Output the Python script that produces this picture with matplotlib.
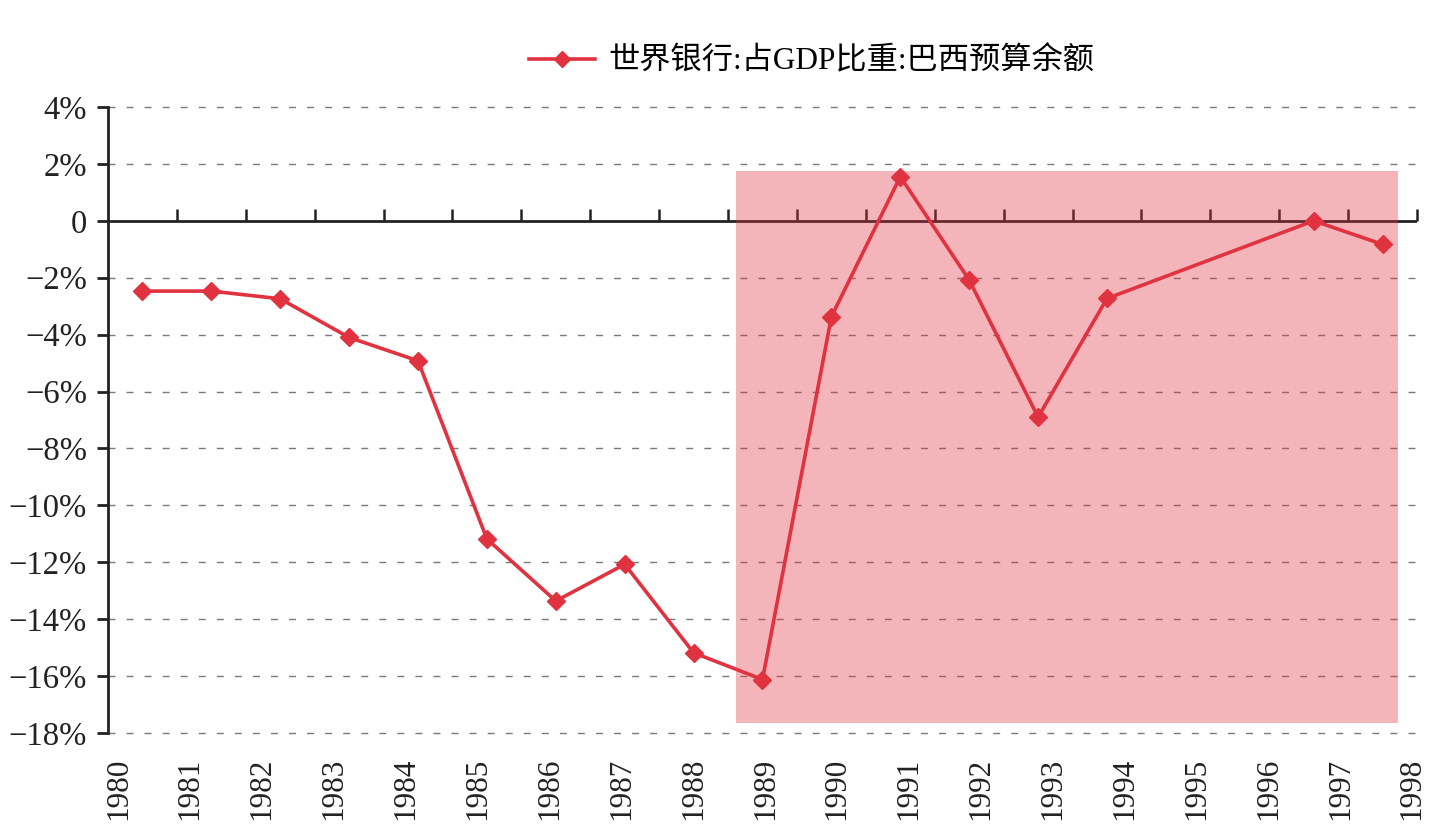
import numpy as np
import matplotlib
matplotlib.use("Agg")
import matplotlib.pyplot as plt
from matplotlib.ticker import FuncFormatter

plt.rcParams['font.family'] = ['Liberation Serif', 'Noto Sans CJK SC']
plt.rcParams['axes.unicode_minus'] = True

# 数据: 巴西预算余额 (占GDP比重, %)
year_labels = [str(y) for y in range(1980, 1999)]
slot = [0, 1, 2, 3, 4, 5, 6, 7, 8, 9, 10, 11, 12, 13, 14, 17, 18]
balance = [-2.47, -2.47, -2.74, -4.10, -4.92, -11.18, -13.36, -12.07, -15.18,
           -16.12, -3.37, 1.55, -2.08, -6.90, -2.73, 0.0, -0.83]
series_name = "世界银行:占GDP比重:巴西预算余额"

# 阴影区间
shade_x = (9.11, 18.72)
shade_y = (-17.64, 1.75)

red = '#E0323F'

fig = plt.figure(figsize=(14.47, 8.39), dpi=100)
ax = fig.add_axes([0.0746, 0.1263, 0.9047, 0.7462])

n = len(year_labels)
ax.set_xlim(0, n)
ax.set_ylim(-18, 4)

# 网格线
for v in range(-18, 5, 2):
    if v != 0:
        ax.axhline(v, color='#7a7a7a', lw=1.0, ls=(0, (5, 8)), zorder=1,
                   clip_on=False)

# 零轴
ax.axhline(0, color='#222222', lw=2.0, zorder=2)
ax.spines['bottom'].set_position(('data', 0))
ax.spines['bottom'].set_visible(False)
ax.set_xticks(np.arange(1, n + 1))
ax.set_xticklabels([])
ax.tick_params(axis='x', direction='in', length=9, width=1.8, color='#222222')

ax.spines['top'].set_visible(False)
ax.spines['right'].set_visible(False)
ax.spines['left'].set_linewidth(2.0)
ax.spines['left'].set_color('#222222')

ax.set_yticks(range(-18, 5, 2))
ax.yaxis.set_major_formatter(FuncFormatter(
    lambda v, p: '0' if v == 0 else f"{int(v)}%".replace('-', '\u2212')))
ax.tick_params(axis='y', direction='out', length=8, width=2.0, color='#222222',
               labelsize=23.5, pad=7, labelcolor='#222222')

# 阴影
ax.fill_between(shade_x, shade_y[0], shade_y[1], color=red, alpha=0.36,
                lw=0, zorder=2.5)

# 折线
xs = np.array(slot) + 0.5
ax.plot(xs, balance, color=red, lw=2.6, marker='D', markersize=9,
        markerfacecolor=red, markeredgecolor=red, zorder=3, label=series_name)

# 年份标签
sec = ax.secondary_xaxis(0.0)
sec.set_xticks(np.linspace(0.15, n - 0.07, n))
sec.set_xticklabels(year_labels, rotation=90, fontsize=22.5, color='#222222')
sec.tick_params(length=0, pad=18)
sec.spines['bottom'].set_visible(False)

fig.legend(loc='center', bbox_to_anchor=(0.561, 0.926), frameon=False,
           fontsize=22.5, handlelength=2.1, handletextpad=0.45,
           markerscale=0.85)

fig.savefig('out.png', dpi=100)
